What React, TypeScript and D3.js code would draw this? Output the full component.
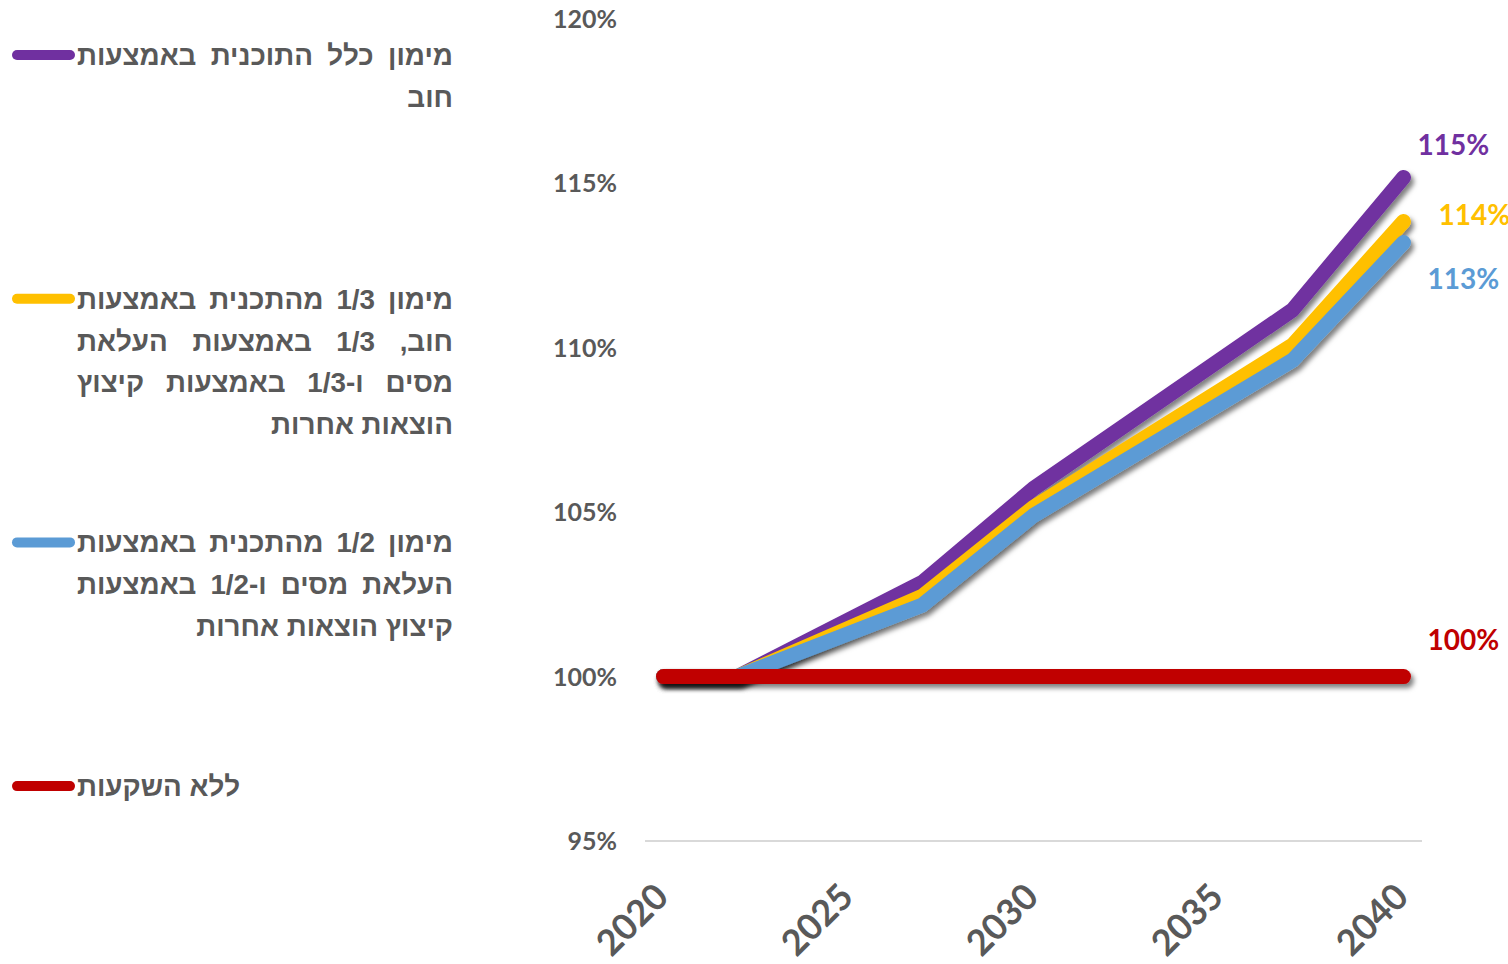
import React, { useEffect, useRef } from 'react';
import * as d3 from 'd3';

// ---- data ----
const years = [2020, 2022, 2027, 2030, 2037, 2040];
const fullDebtValues = [100, 100, 102.87, 105.72, 111.15, 115.18];
const thirdsValues = [100, 100, 102.45, 105.15, 110.08, 113.84];
const halvesValues = [100, 100, 102.18, 104.9, 109.62, 113.2];
const noInvestValues = [100, 100, 100, 100, 100, 100];

const xTickYears = [2020, 2025, 2030, 2035, 2040];
const yTicks = [95, 100, 105, 110, 115, 120];

const endLabels = ['115%', '114%', '113%', '100%'];
const seriesColors = ['#7030A0', '#FFC000', '#5B9BD5', '#C00000'];
const legendLines = [
  ['מימון כלל התוכנית באמצעות', 'חוב'],
  ['מימון 1/3 מהתכנית באמצעות', 'חוב, 1/3 באמצעות העלאת', 'מסים ו-1/3 באמצעות קיצוץ', 'הוצאות אחרות'],
  ['מימון 1/2 מהתכנית באמצעות', 'העלאת מסים ו-1/2 באמצעות', 'קיצוץ הוצאות אחרות'],
  ['ללא השקעות'],
];

const W = 1508;
const H = 964;

export default function App() {
  const ref = useRef<SVGSVGElement | null>(null);

  useEffect(() => {
    const svg = d3.select(ref.current);
    svg.selectAll('*').remove();

    const defs = svg.append('defs');
    defs
      .append('filter')
      .attr('id', 'shadow')
      .attr('filterUnits', 'userSpaceOnUse')
      .attr('x', 0)
      .attr('y', 0)
      .attr('width', W)
      .attr('height', H)
      .append('feDropShadow')
      .attr('dx', 3)
      .attr('dy', 4)
      .attr('stdDeviation', 2.5)
      .attr('flood-color', '#000')
      .attr('flood-opacity', 0.5);

    const x = d3.scaleLinear().domain([2020, 2040]).range([663.5, 1403.5]);
    const y = d3.scaleLinear().domain([95, 120]).range([841, 19]);

    const textColor = '#595959';
    const numFont = 'Lato, "Open Sans", sans-serif';
    const hebFont = '"Liberation Sans", Arial, sans-serif';

    // axis baseline
    svg
      .append('line')
      .attr('x1', 645)
      .attr('x2', 1422)
      .attr('y1', y(95))
      .attr('y2', y(95))
      .attr('stroke', '#d9d9d9')
      .attr('stroke-width', 2);

    // y tick labels
    svg
      .selectAll('text.ytick')
      .data(yTicks)
      .enter()
      .append('text')
      .attr('class', 'ytick')
      .attr('x', 617)
      .attr('y', (d) => y(d))
      .attr('dy', '0.36em')
      .attr('text-anchor', 'end')
      .attr('font-family', numFont)
      .attr('font-weight', 700)
      .attr('font-size', 25)
      .attr('fill', textColor)
      .text((d) => `${d}%`);

    // x tick labels
    svg
      .selectAll('text.xtick')
      .data(xTickYears)
      .enter()
      .append('text')
      .attr('class', 'xtick')
      .attr('transform', (d) => `translate(${x(d) + 7},899) rotate(-45)`)
      .attr('text-anchor', 'end')
      .attr('font-family', numFont)
      .attr('font-weight', 700)
      .attr('font-size', 36)
      .attr('fill', textColor)
      .text((d) => String(d));

    const allValues = [fullDebtValues, thirdsValues, halvesValues, noInvestValues];
    const line = d3
      .line<number>()
      .x((_, i) => x(years[i]))
      .y((d) => y(d));

    allValues.forEach((vals, i) => {
      svg
        .append('path')
        .attr('d', line(vals) as string)
        .attr('fill', 'none')
        .attr('stroke', seriesColors[i])
        .attr('stroke-width', 15)
        .attr('stroke-linecap', 'round')
        .attr('stroke-linejoin', 'round')
        .attr('filter', 'url(#shadow)');
    });

    // end labels
    const offsets = [
      [14, -33],
      [35, -7],
      [24, 36],
      [24, -37],
    ];
    allValues.forEach((vals, i) => {
      const last = vals.length - 1;
      svg
        .append('text')
        .attr('x', x(years[last]) + offsets[i][0])
        .attr('y', y(vals[last]) + offsets[i][1])
        .attr('dy', '0.36em')
        .attr('text-anchor', 'start')
        .attr('font-family', numFont)
        .attr('font-weight', 700)
        .attr('font-size', 28)
        .attr('fill', seriesColors[i])
        .text(endLabels[i]);
    });

    // legend
    const left = 77;
    const right = 453;
    const lh = 41.8;
    legendLines.forEach((lines, i) => {
      const cy = 55 + i * 243.7;
      svg
        .append('line')
        .attr('x1', 17)
        .attr('x2', 70)
        .attr('y1', cy)
        .attr('y2', cy)
        .attr('stroke', seriesColors[i])
        .attr('stroke-width', 10)
        .attr('stroke-linecap', 'round');

      const g = svg.append('g');
      const mk = (s: string, cx: number, by: number) =>
        g
          .append('text')
          .attr('x', cx)
          .attr('y', by)
          .attr('text-anchor', 'middle')
          .attr('direction', 'rtl')
          .attr('font-family', hebFont)
          .attr('font-weight', 700)
          .attr('font-size', 27.8)
          .attr('fill', textColor)
          .text(s);

      lines.forEach((ln, j) => {
        const by = cy + 10 + j * lh;
        const isLast = j === lines.length - 1;
        if (lines.length === 1) {
          const t = mk(ln, 0, by);
          const w = (t.node() as SVGTextElement).getComputedTextLength();
          t.attr('x', left + w / 2);
        } else if (isLast) {
          const t = mk(ln, 0, by);
          const w = (t.node() as SVGTextElement).getComputedTextLength();
          t.attr('x', right - w / 2);
        } else {
          const words = ln.split(' ');
          const nodes = words.map((wd) => mk(wd, 0, by));
          const widths = nodes.map((n) => (n.node() as SVGTextElement).getComputedTextLength());
          const total = widths.reduce((a, b) => a + b, 0);
          const gap = words.length > 1 ? (right - left - total) / (words.length - 1) : 0;
          let cur = right;
          nodes.forEach((n, k) => {
            n.attr('x', cur - widths[k] / 2);
            cur -= widths[k] + gap;
          });
        }
      });
    });
  }, []);

  return (
    <svg
      ref={ref}
      width={W}
      height={H}
      style={{ position: 'fixed', left: 0, top: 0, background: '#fff' }}
    />
  );
}
